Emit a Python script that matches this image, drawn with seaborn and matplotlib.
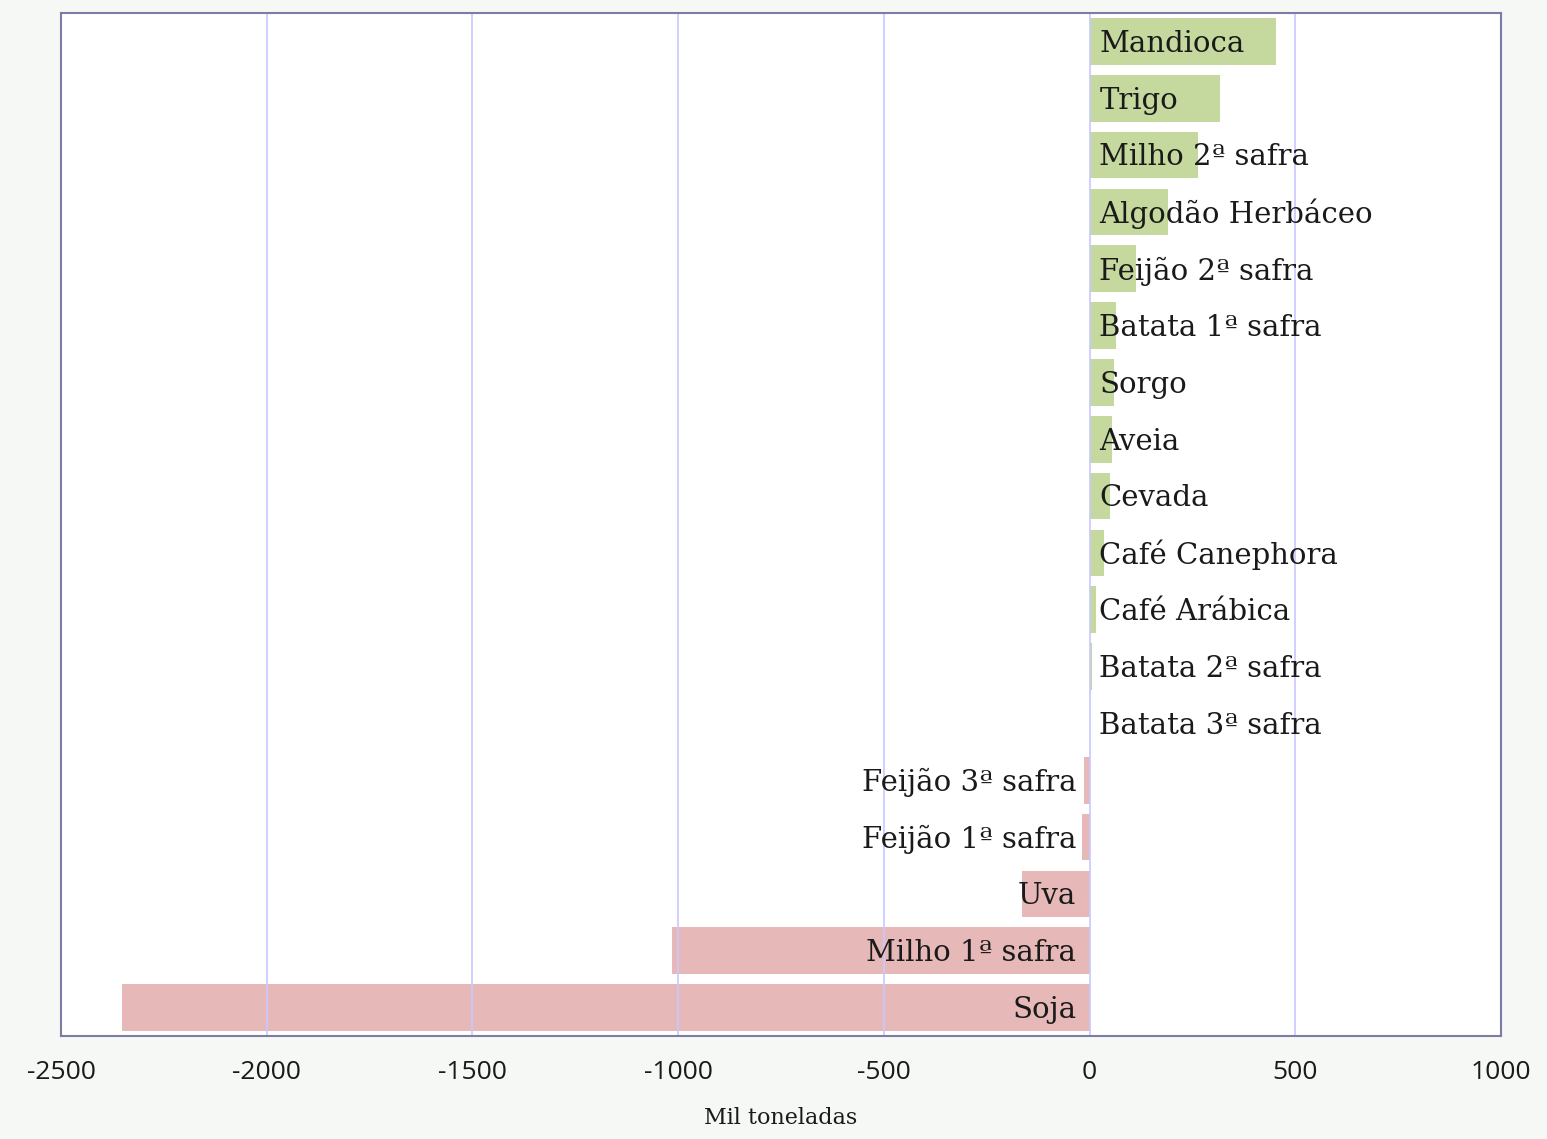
import numpy as np
import pandas as pd
import seaborn as sns
import matplotlib.pyplot as plt

# Variação da produção por cultura (mil toneladas)
culturas = ['Mandioca', 'Trigo', 'Milho 2ª safra', 'Algodão Herbáceo', 'Feijão 2ª safra',
            'Batata 1ª safra', 'Sorgo', 'Aveia', 'Cevada', 'Café Canephora', 'Café Arábica',
            'Batata 2ª safra', 'Batata 3ª safra', 'Feijão 3ª safra', 'Feijão 1ª safra',
            'Uva', 'Milho 1ª safra', 'Soja']
variacao = [453, 317, 263, 190, 113, 64, 59, 54, 50, 35, 16, 5, 1, -14, -18, -164, -1015, -2352]

df = pd.DataFrame({'cultura': culturas, 'variacao': variacao})
cores = ['#c5d89d' if v >= 0 else '#e6b8b8' for v in variacao]

sns.set_style('white')
plt.rcParams['font.family'] = ['DejaVu Serif']
plt.rcParams['axes.unicode_minus'] = False

fig = plt.figure(figsize=(15.47, 11.39), dpi=100, facecolor='#f6f8f5')
ax = fig.add_axes([61 / 1547, 1 - 1036 / 1139, 1440 / 1547, 1023 / 1139])
ax.set_facecolor('white')

sns.barplot(data=df, y='cultura', x='variacao', hue='cultura', palette=cores,
            legend=False, width=0.82, saturation=1, linewidth=0, ax=ax, zorder=1)

ax.set_xlim(-2500, 1000)
ax.set_ylim(len(culturas) - 0.5, -0.5)
ax.set_xticks([-2500, -2000, -1500, -1000, -500, 0, 500, 1000])
ax.set_yticks([])
ax.set_ylabel('')
ax.grid(False)
for xv in ax.get_xticks():
    ax.axvline(xv, color='#c8c8ff', linewidth=1.2, zorder=2)

for s in ax.spines.values():
    s.set_color('#7c7ca6')
    s.set_linewidth(1.5)
    s.set_zorder(4)

ax.tick_params(axis='x', length=0, pad=17)
for lbl in ax.get_xticklabels():
    lbl.set_family(['Open Sans', 'DejaVu Sans'])
    lbl.set_fontsize(19)
    lbl.set_color('#1a1a1a')

ax.set_xlabel('Mil toneladas', fontsize=16, color='#1a1a1a', labelpad=16)

# rótulos junto ao eixo zero
for i, (nome, v) in enumerate(zip(culturas, variacao)):
    if v >= 0:
        ax.text(24, i + 0.04, nome, ha='left', va='center', fontsize=21, color='#1a1a1a', zorder=3)
    else:
        ax.text(-32, i + 0.04, nome, ha='right', va='center', fontsize=21, color='#1a1a1a', zorder=3)

fig.savefig('out.png', dpi=100, facecolor=fig.get_facecolor())
